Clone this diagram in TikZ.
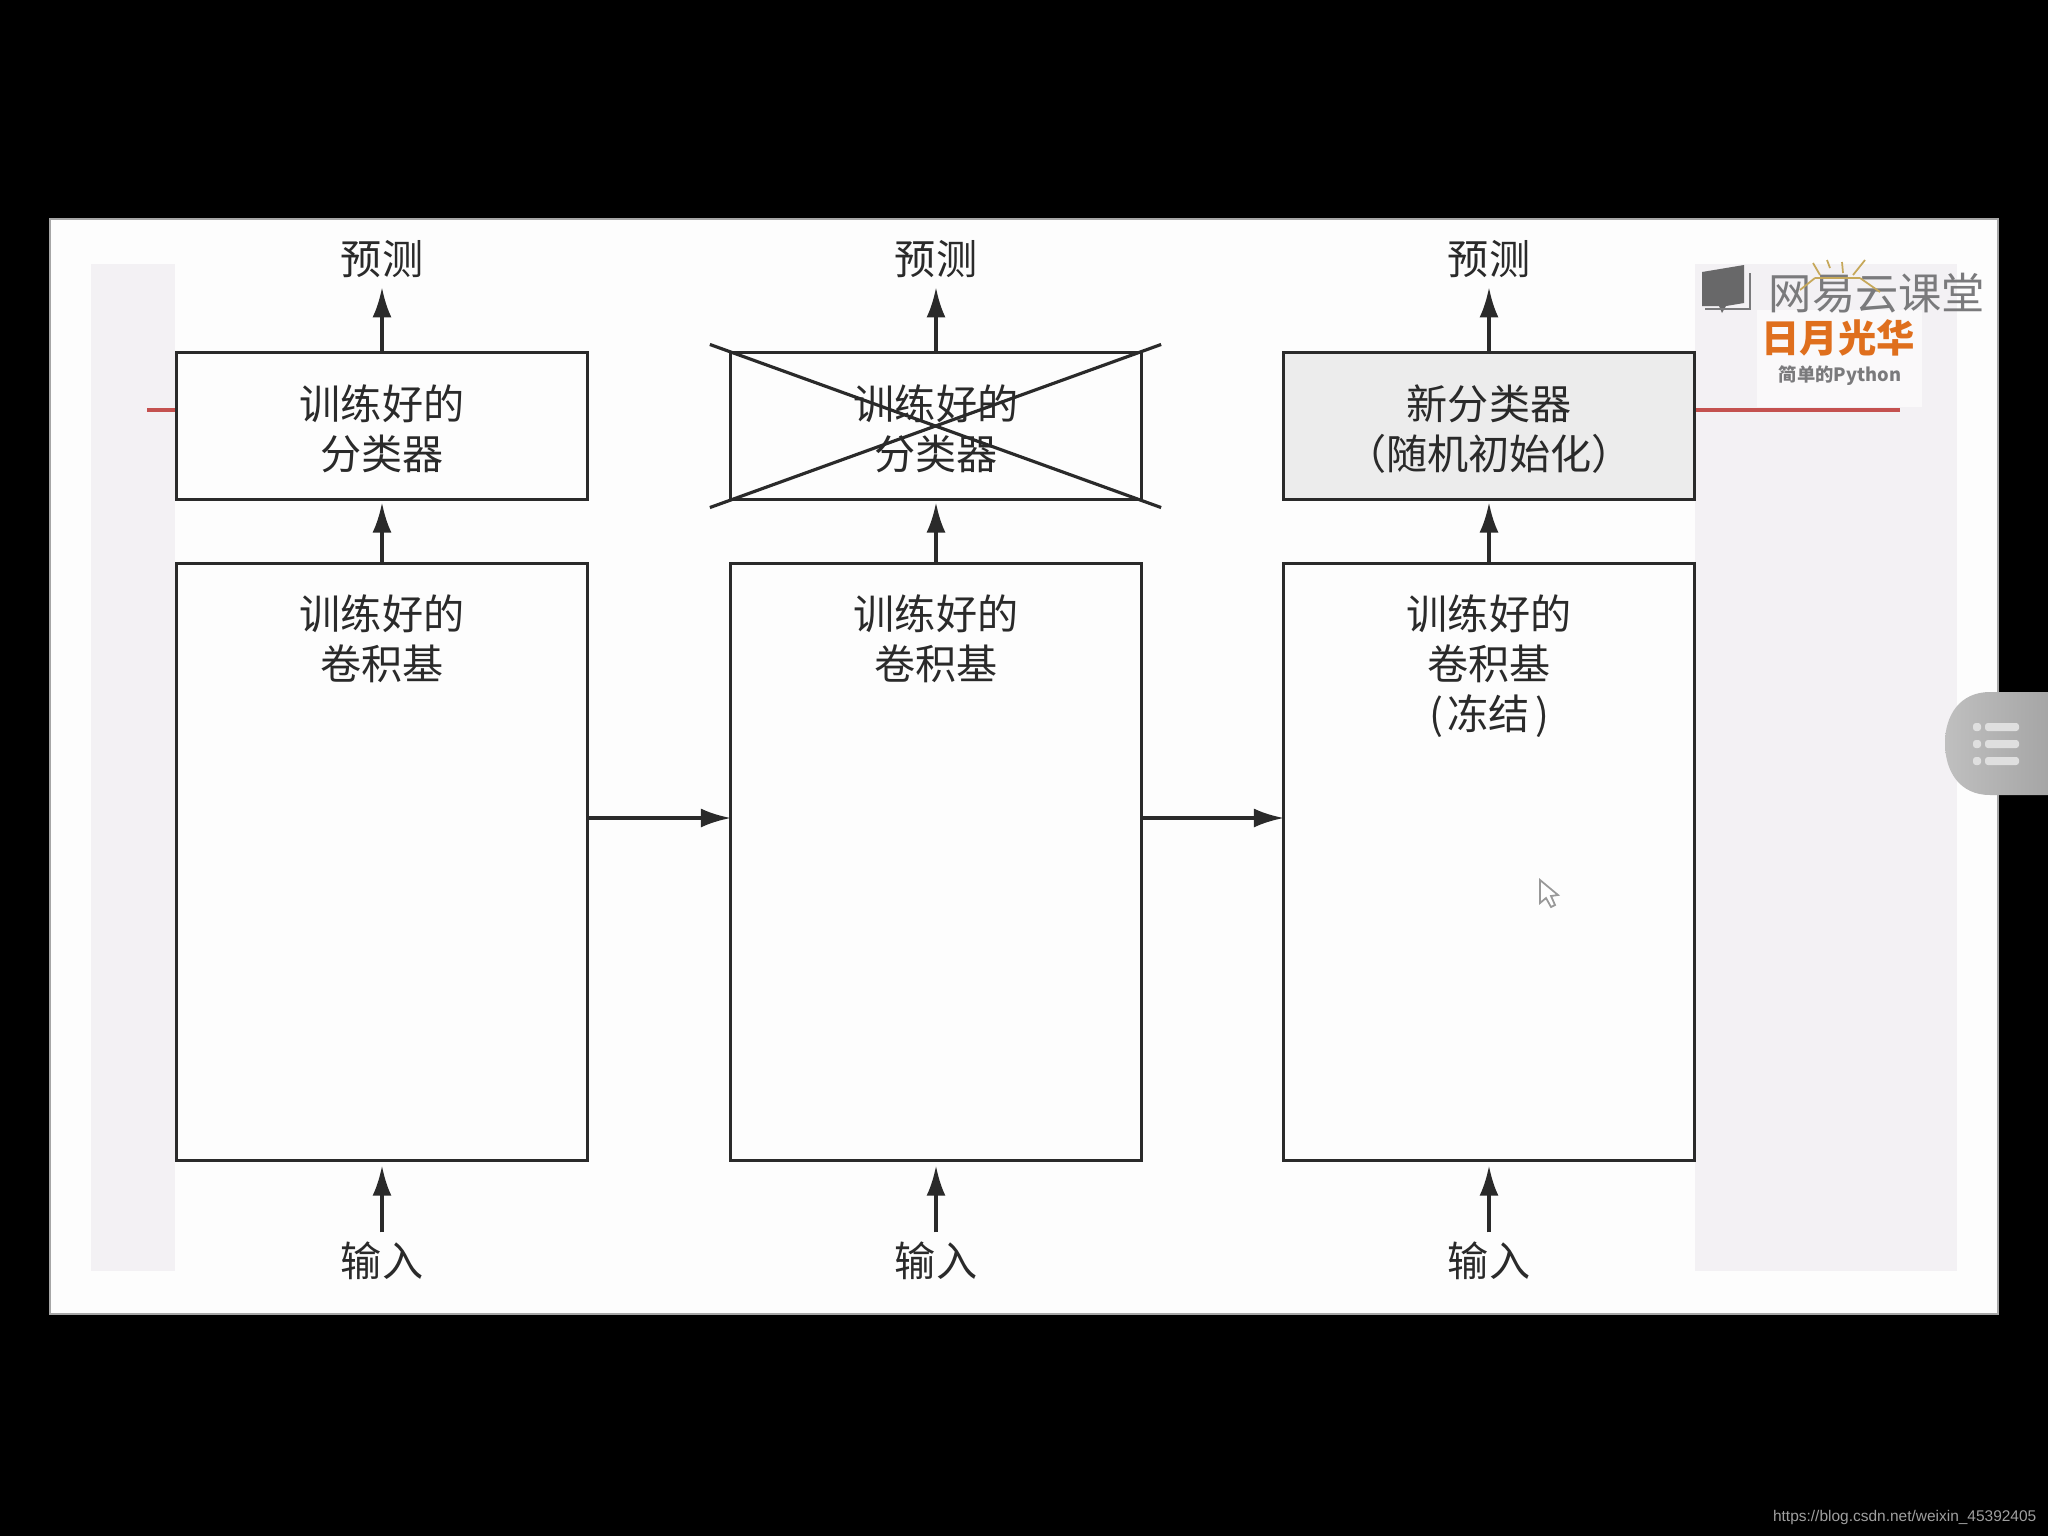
\documentclass[tikz,border=0pt]{standalone}
\usepackage{fontspec}
\usepackage{xcolor}
\setmainfont{Noto Sans CJK SC}
\newfontfamily\urlfont{Liberation Sans}
\usetikzlibrary{arrows.meta,calc}
\definecolor{inkdark}{HTML}{2A2A2A}
\definecolor{bandgray}{HTML}{F3F1F4}
\definecolor{panelwhite}{HTML}{FDFDFD}
\definecolor{newgray}{HTML}{ECECEC}
\definecolor{markred}{HTML}{C4514F}
\definecolor{brandgray}{HTML}{7A7A7C}
\definecolor{brandorange}{HTML}{DF6F1D}
\definecolor{raygold}{HTML}{C6A85A}
\tikzset{
  boxnode/.style={draw=inkdark,line width=0.8pt,minimum width=4.1cm,outer sep=0pt,inner sep=0pt,align=center,text=inkdark},
  headbox/.style={boxnode,minimum height=1.47cm,font=\fontsize{11.7}{14.2}\selectfont},
  basebox/.style={boxnode,minimum height=5.97cm},
  basetext/.style={anchor=north,inner sep=0pt,align=center,text=inkdark,font=\fontsize{11.7}{14.2}\selectfont},
  endtext/.style={inner sep=0.09cm,text=inkdark,font=\fontsize{11.7}{14.2}\selectfont},
  flow/.style={draw=inkdark,line width=1pt,-{Latex[length=3mm,width=1.9mm]}},
  crossline/.style={draw=inkdark,line width=0.9pt}
}
\begin{document}
\begin{tikzpicture}[x=0.01cm,y=-0.01cm,>=Latex]
  \useasboundingbox (0,0) rectangle (2048,1536);
  \fill[black] (0,0) rectangle (2048,1536);
  \draw[fill=panelwhite,draw=gray!70,line width=0.6pt] (50,219) rectangle (1998,1314);
  \fill[bandgray] (91,264) rectangle (175,1271);
  \fill[bandgray] (1695,264) rectangle (1957,1271);
  \fill[panelwhite!70!bandgray] (1757,310) rectangle (1922,407);
  \draw[markred,line width=1.1pt] (147,410) -- (176,410);
  \draw[markred,line width=1.1pt] (1694,410) -- (1900,410);

  \foreach \col/\x in {1/382,2/936,3/1489}{
    \node[headbox] (head\col) at (\x,426) {};
    \node[basebox] (base\col) at (\x,862) {};
    \node[endtext] (pred\col) at (\x,259) {预测};
    \node[endtext] (input\col) at (\x,1261) {输入};
    \draw[flow] (head\col) -- (pred\col);
    \draw[flow,shorten >=0.03cm] (base\col) -- (head\col);
    \draw[flow,shorten >=0.05cm] (input\col) -- (base\col);
  }
  \draw[headbox,fill=newgray] (head3.north west) rectangle (head3.south east);
  \node[headbox,fill=none,draw=none] (headtext1) at ($(head1)+(0,3)$) {训练好的\\分类器};
  \node[headbox,fill=none,draw=none] (headtext2) at ($(head2)+(0,3)$) {训练好的\\分类器};
  \node[headbox,fill=none,draw=none] (headtext3) at ($(head3)+(0,3)$) {新分类器\\（随机初始化）};
  \node[basetext] (basetext1) at ($(base1.north)+(0,31)$) {训练好的\\卷积基};
  \node[basetext] (basetext2) at ($(base2.north)+(0,31)$) {训练好的\\卷积基};
  \node[basetext] (basetext3) at ($(base3.north)+(0,31)$) {训练好的\\卷积基\\(\kern0.12em 冻结\kern0.12em)};

  \coordinate (bar1) at (base1.east|-0,818);
  \coordinate (bar2) at (base2.west|-0,818);
  \coordinate (bar3) at (base2.east|-0,818);
  \coordinate (bar4) at (base3.west|-0,818);
  \draw[flow] (bar1) -- (bar2);
  \draw[flow] (bar3) -- (bar4);

  \coordinate (xa) at ($(head2.north west)+(-21,-8)$);
  \coordinate (xb) at ($(head2.south east)+(20,8)$);
  \coordinate (xc) at ($(head2.south west)+(-21,8)$);
  \coordinate (xd) at ($(head2.north east)+(20,-8)$);
  \draw[crossline] (xa) -- (xb);
  \draw[crossline] (xc) -- (xd);

  \fill[brandgray!85!black] (1702,272) -- (1744,265) -- (1744,303) -- (1726,306) -- (1722,313) -- (1719,306) -- (1702,306) -- cycle;
  \draw[brandgray,line width=0.5pt] (1750,273) -- (1750,309) -- (1705,309);
  \node[inner sep=0pt,text=brandgray,font=\fontsize{12.3}{14}\selectfont] (brandname) at (1877,293) {网易云课堂};
  \node[inner sep=0pt,text=brandorange,font=\fontsize{10.9}{12}\selectfont\bfseries] (brandtitle) at (1838,338) {日月光华};
  \node[inner sep=0pt,text=brandgray,font=\fontsize{5.2}{6}\selectfont\bfseries] (brandsub) at (1840,376) {简单的Python};
  \foreach \xa/\ya/\xb/\yb in {1813/263/1820/275,1827/260/1830/268,1842/262/1843/273,1865/260/1853/275,1800/290/1815/278,1815/278/1860/278,1860/278/1880/292}{
    \draw[raygold,line width=0.5pt] (\xa,\ya) -- (\xb,\yb);
  }

  \shade[left color=gray!50,right color=gray!70] (2048,692) -- (1990,692) .. controls (1960,692) and (1945,715) .. (1945,743) .. controls (1945,772) and (1960,795) .. (1990,795) -- (2048,795) -- cycle;
  \foreach \y in {727,744,761}{
    \fill[gray!25,rounded corners=0.8pt] (1973,\y-4) rectangle (1981,\y+4);
    \fill[gray!25,rounded corners=0.8pt] (1985,\y-4) rectangle (2019,\y+4);
  }
  \draw[gray!80,line width=0.5pt,fill=white] (1540,880) -- (1540,903) -- (1546,898) -- (1551,907) -- (1555,905) -- (1551,896) -- (1558,895) -- cycle;
  \node[anchor=east,inner sep=0pt,text=gray!75,font=\urlfont\fontsize{4.4}{5}\selectfont] (blogurl) at (2037,1517) {https://blog.csdn.net/weixin\_45392405};
\end{tikzpicture}
\end{document}
